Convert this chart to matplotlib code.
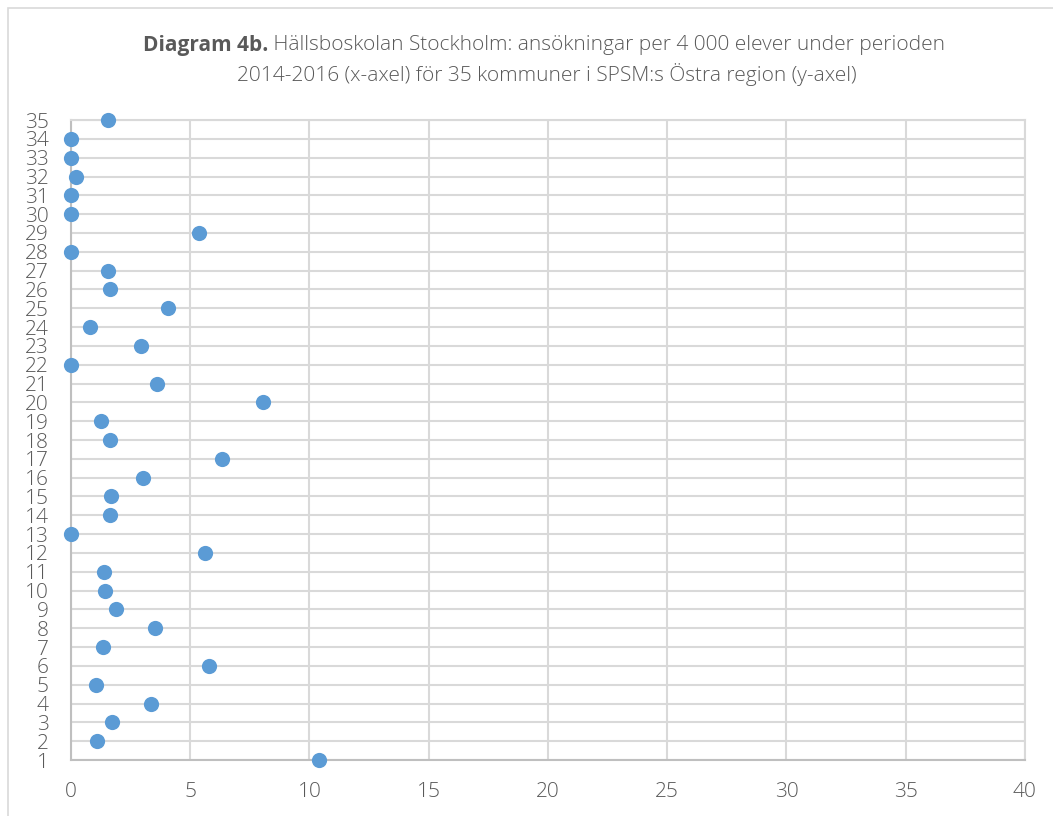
import matplotlib.pyplot as plt
from matplotlib.patches import Rectangle

# kommun nr (y) och ansökningar per 4 000 elever (x)
kommuner = list(range(1, 36))
ansokningar = [10.4, 1.09, 1.72, 3.35, 1.05, 5.79, 1.34, 3.52, 1.89, 1.43,
               1.38, 5.62, 0.0, 1.64, 1.68, 3.02, 6.33, 1.64, 1.26, 8.05,
               3.61, 0.0, 2.94, 0.80, 4.07, 1.64, 1.55, 0.0, 5.37, 0.0,
               0.0, 0.21, 0.0, 0.0, 1.55]
x_ticks = [0, 5, 10, 15, 20, 25, 30, 35, 40]

grey_text = "#595959"
grid_col = "#D9D9D9"
plt.rcParams['font.family'] = ['Open Sans', 'DejaVu Sans']

fig = plt.figure(figsize=(10.53, 8.16), dpi=100)
ax = fig.add_axes([0.0674, 0.0686, 0.906, 0.7843])

ax.scatter(ansokningar, kommuner, s=120, color="#5B9BD5", zorder=3,
           clip_on=False, linewidths=0)

ax.set_xlim(0, 40)
ax.set_ylim(1, 35)
ax.set_xticks(x_ticks)
ax.set_yticks(kommuner)
ax.grid(True, color=grid_col, linewidth=1.5)
ax.set_axisbelow(True)
for side in ["top", "right"]:
    ax.spines[side].set_color(grid_col)
    ax.spines[side].set_linewidth(1.5)
for side in ["left", "bottom"]:
    ax.spines[side].set_color("#BFBFBF")
    ax.spines[side].set_linewidth(1.5)
ax.tick_params(length=0, labelsize=15, colors=grey_text)
ax.tick_params(axis="x", pad=16)
ax.tick_params(axis="y", pad=16)
for lbl in ax.get_yticklabels() + ax.get_xticklabels():
    lbl.set_fontweight("light")

# ram runt diagrammet
fig.patches.append(Rectangle((8 / 1053, -0.1), 1.2, 1.1 - 8 / 816,
                             transform=fig.transFigure, fill=False,
                             edgecolor="#D9D9D9", linewidth=1.2))

# rubrik: fet del + vanlig del
fig.canvas.draw()
r = fig.canvas.get_renderer()
t1 = fig.text(0, 1 - 45 / 816, "Diagram 4b.", fontsize=15, fontweight="bold",
              color=grey_text, va="center")
t2 = fig.text(0, 1 - 45 / 816, " Hällsboskolan Stockholm: ansökningar per 4 000 elever under perioden",
              fontsize=15, fontweight="light", color=grey_text, va="center")
w1 = t1.get_window_extent(r).width
w2 = t2.get_window_extent(r).width
x0 = 544 - (w1 + w2) / 2
t1.set_x(x0 / 1053)
t2.set_x((x0 + w1) / 1053)
fig.text(547 / 1053, 1 - 75 / 816,
         "2014-2016 (x-axel) för 35 kommuner i SPSM:s Östra region (y-axel)",
         fontsize=15, fontweight="light", color=grey_text, ha="center", va="center")

fig.savefig("out.png", dpi=100)
